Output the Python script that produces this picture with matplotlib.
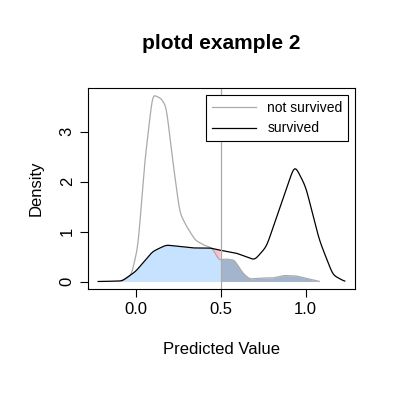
import numpy as np
import matplotlib
matplotlib.use("Agg")
import matplotlib.pyplot as plt

plt.rcParams['font.family'] = ['Liberation Sans', 'DejaVu Sans']

surv_x = [-0.22, -0.08, 0.0, 0.1, 0.18, 0.26, 0.34, 0.44, 0.49, 0.59, 0.70, 0.77, 0.85, 0.935, 1.0, 1.08, 1.16, 1.23]
surv_y = [0.0, 0.01, 0.2, 0.6, 0.73, 0.7, 0.67, 0.67, 0.63, 0.57, 0.43, 0.7, 1.5, 2.33, 1.9, 0.83, 0.13, 0.0]
nsurv_x = [-0.08, -0.025, 0.014, 0.053, 0.1, 0.15, 0.18, 0.22, 0.26, 0.3, 0.35, 0.4, 0.45, 0.49, 0.53, 0.58, 0.63, 0.67, 0.75, 0.81, 0.87, 0.945, 1.02, 1.08]
nsurv_y = [0.0, 0.13, 0.7, 2.37, 3.74, 3.66, 3.5, 2.37, 1.37, 1.1, 0.83, 0.73, 0.67, 0.43, 0.45, 0.43, 0.17, 0.05, 0.07, 0.07, 0.12, 0.11, 0.05, 0.0]
cutoff = 0.5

def smooth(y, sigma):
    k = np.arange(-4 * sigma, 4 * sigma + 1)
    w = np.exp(-0.5 * (k / sigma) ** 2)
    w /= w.sum()
    return np.convolve(y, w, mode='same')

fig = plt.figure(figsize=(4, 4), dpi=100)
ax = fig.add_axes([0.22, 0.2775, 0.6675, 0.5025])

g = np.linspace(-0.3, 1.3, 1600)
s = smooth(np.interp(g, surv_x, surv_y, left=0, right=0), 12)
n = smooth(np.interp(g, nsurv_x, nsurv_y, left=0, right=0), 8)
ms = (g >= surv_x[0]) & (g <= surv_x[-1])
mn = (g >= nsurv_x[0]) & (g <= nsurv_x[-1])
lo = np.minimum(s, n)
left = g <= cutoff
ax.fill_between(g, 0, lo, where=left, color='#C6E2FF', lw=0)
ax.fill_between(g, n, s, where=left & (s > n), color='#FFC0CB', lw=0)
ax.fill_between(g, 0, lo, where=g >= cutoff - 0.001, color='#A2B5CD', lw=0)

ax.plot(g[mn], n[mn], color='#AAAAAA', lw=0.9, label='not survived')
ax.plot(g[ms], s[ms], color='black', lw=0.9, label='survived')
ax.axvline(cutoff, color='#AAAAAA', lw=0.9)

ax.set_xlim(-0.28, 1.29)
ax.set_ylim(-0.15, 3.87)
ax.set_xticks([0.0, 0.5, 1.0])
ax.set_xticklabels(['0.0', '0.5', '1.0'])
ax.set_yticks([0, 1, 2, 3])
ax.set_yticklabels(['0', '1', '2', '3'], rotation=90, va='center')
ax.tick_params(labelsize=12, length=6)
ax.set_xlabel('Predicted Value', fontsize=12, labelpad=18)
ax.set_ylabel('Density', fontsize=12, labelpad=12)
ax.set_title('plotd example 2', fontsize=15, fontweight='bold', pad=28)
leg = ax.legend(loc='upper right', fontsize=10, fancybox=False, framealpha=1,
                edgecolor='black', borderaxespad=0.5, handlelength=3.2)
leg.get_frame().set_linewidth(0.8)
fig.savefig('out.png', dpi=100)
